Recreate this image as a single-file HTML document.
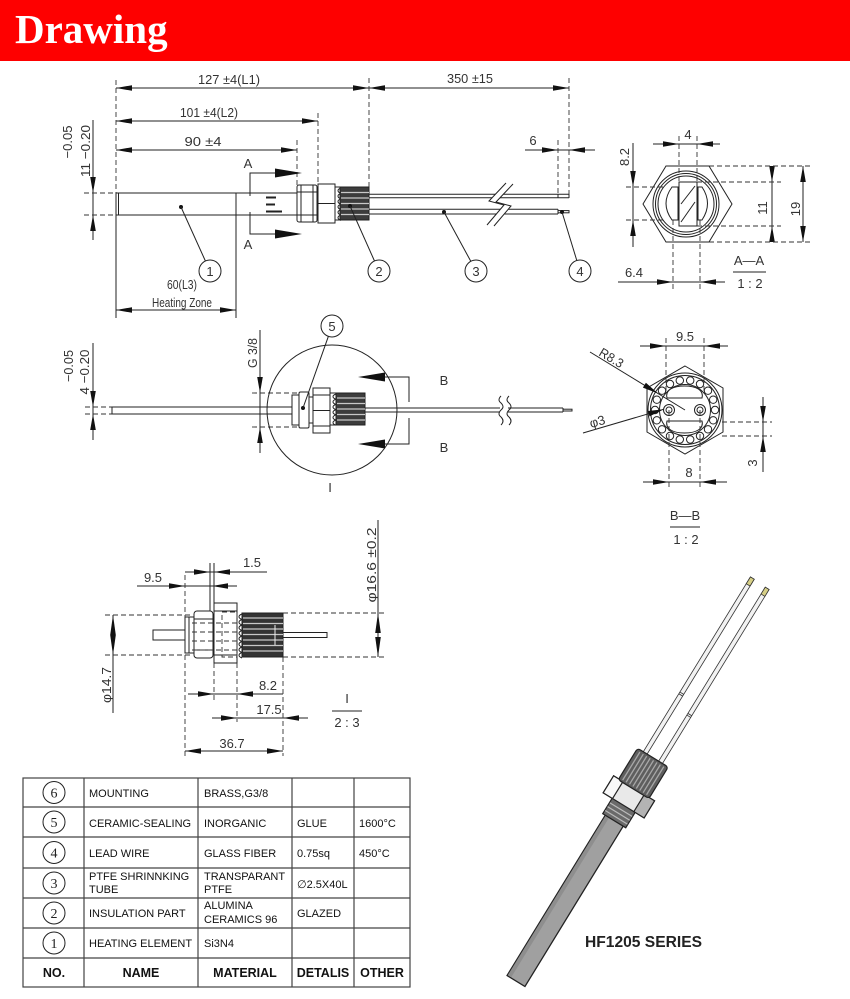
<!DOCTYPE html>
<html><head><meta charset="utf-8"><style>
html,body{margin:0;padding:0;background:#fff}
svg{display:block}
.l{stroke:#222;stroke-width:1;fill:none}
.lf{stroke:#222;stroke-width:1;fill:#fff}
.d{stroke:#333;stroke-width:0.9;fill:none;stroke-dasharray:5 3}
.t{font-family:"Liberation Sans Narrow","Liberation Sans",sans-serif;font-size:13px;fill:#333}
.a{fill:#111}
.tb{font-family:"Liberation Sans",sans-serif;font-size:11px;fill:#111}
.th{font-family:"Liberation Sans",sans-serif;font-size:12.5px;font-weight:bold;fill:#111}
.cn{font-family:"Liberation Serif",serif;font-size:14px;fill:#222}
.ks{stroke:#c8c8c8;stroke-width:1.2}
</style></head><body>
<svg width="850" height="999" viewBox="0 0 850 999" xmlns="http://www.w3.org/2000/svg">
<rect x="0" y="0" width="850" height="999" fill="#fff"/>
<rect x="0" y="0" width="850" height="61" fill="#fe0000"/>
<text x="15" y="43" font-family="Liberation Serif,serif" font-weight="bold" font-size="41" fill="#fff">Drawing</text>

<!-- ============ TOP VIEW ============ -->
<line class="l" x1="116" y1="88" x2="569" y2="88"/>
<polygon class="a" points="116,88 132,85.2 132,90.8"/>
<polygon class="a" points="369,88 353,85.2 353,90.8"/>
<polygon class="a" points="369,88 385,85.2 385,90.8"/>
<polygon class="a" points="569,88 553,85.2 553,90.8"/>
<text class="t" x="229" y="84" text-anchor="middle" textLength="62" lengthAdjust="spacingAndGlyphs" font-size="14">127 ±4(L1)</text>
<text class="t" x="470" y="83" text-anchor="middle" textLength="46" lengthAdjust="spacingAndGlyphs" font-size="14">350 ±15</text>

<line class="l" x1="116" y1="121" x2="318" y2="121"/>
<polygon class="a" points="116,121 132,118.2 132,123.8"/>
<polygon class="a" points="318,121 302,118.2 302,123.8"/>
<text class="t" x="209" y="117" text-anchor="middle" textLength="58" lengthAdjust="spacingAndGlyphs" font-size="14">101 ±4(L2)</text>

<line class="l" x1="116" y1="150" x2="297" y2="150"/>
<polygon class="a" points="116,150 132,147.2 132,152.8"/>
<polygon class="a" points="297,150 281,147.2 281,152.8"/>
<text class="t" x="203" y="146" text-anchor="middle" textLength="37" lengthAdjust="spacingAndGlyphs">90 ±4</text>

<line class="l" x1="525" y1="150" x2="595" y2="150"/>
<polygon class="a" points="558,150 542,147.2 542,152.8"/>
<polygon class="a" points="569,150 585,147.2 585,152.8"/>
<text class="t" x="533" y="145" text-anchor="middle">6</text>

<!-- extension lines -->
<line class="d" x1="116" y1="80" x2="116" y2="193"/>
<line class="l" x1="116" y1="215" x2="116" y2="318"/>
<line class="l" x1="236" y1="193" x2="236" y2="318"/>
<line class="d" x1="297" y1="140" x2="297" y2="185"/>
<line class="d" x1="318" y1="113" x2="318" y2="184"/>
<line class="d" x1="369" y1="78" x2="369" y2="187"/>
<line class="d" x1="569" y1="78" x2="569" y2="194"/>
<line class="d" x1="558" y1="140" x2="558" y2="194"/>

<!-- 11 dim -->
<line class="l" x1="93" y1="120" x2="93" y2="240"/>
<polygon class="a" points="93,193 90.2,177 95.8,177"/>
<polygon class="a" points="93,215 90.2,231 95.8,231"/>
<line class="d" x1="84" y1="193" x2="116" y2="193"/>
<line class="d" x1="84" y1="215" x2="116" y2="215"/>
<text class="t" transform="translate(72,142) rotate(-90)" text-anchor="middle" textLength="33" lengthAdjust="spacingAndGlyphs">−0.05</text>
<text class="t" transform="translate(90,151) rotate(-90)" text-anchor="middle" textLength="52" lengthAdjust="spacingAndGlyphs">11 −0.20</text>

<!-- rod -->
<rect class="l" x="116" y="193" width="181" height="22"/>
<line class="l" x1="118.5" y1="193" x2="118.5" y2="215"/>
<rect x="266" y="196.5" width="10" height="2" fill="#222"/>
<rect x="266" y="203.5" width="9" height="2" fill="#222"/>
<rect x="266" y="210.5" width="16" height="2" fill="#222"/>

<!-- heating zone -->
<line class="l" x1="116" y1="310" x2="236" y2="310"/>
<polygon class="a" points="116,310 132,307.2 132,312.8"/>
<polygon class="a" points="236,310 220,307.2 220,312.8"/>
<text class="t" x="182" y="289" text-anchor="middle" textLength="30" lengthAdjust="spacingAndGlyphs" font-size="14">60(L3)</text>
<text class="t" x="182" y="307" text-anchor="middle" textLength="60" lengthAdjust="spacingAndGlyphs" font-size="14">Heating Zone</text>

<!-- section A -->
<polyline class="l" points="276,173 250,173 250,196"/>
<polyline class="l" points="250,212 250,234 276,234"/>
<polygon class="a" points="302,173 275,168.5 275,177.5"/>
<polygon class="a" points="302,234 275,229.5 275,238.5"/>
<text class="t" x="248" y="168" text-anchor="middle">A</text>
<text class="t" x="248" y="249" text-anchor="middle">A</text>

<!-- connector top -->
<rect class="lf" x="297" y="185" width="20" height="37" rx="2"/>
<line class="l" x1="301" y1="185" x2="301" y2="222"/>
<line class="l" x1="313" y1="185" x2="313" y2="222"/>
<line class="l" x1="297" y1="192" x2="317" y2="192"/>
<line class="l" x1="297" y1="215" x2="317" y2="215"/>
<rect class="lf" x="318" y="184" width="17" height="39"/>
<line class="l" x1="318" y1="203.5" x2="335" y2="203.5"/>
<rect class="lf" x="335" y="187" width="6" height="33"/>
<path class="l" d="M341,188 c-4,1.3 -4,4 0,5.4 c-4,1.3 -4,4 0,5.4 c-4,1.3 -4,4 0,5.4 c-4,1.3 -4,4 0,5.4 c-4,1.3 -4,4 0,5.4 c-4,1.3 -4,4 0,5.4"/>
<rect x="340" y="187" width="29" height="33" fill="#3c3c3c" stroke="#222"/>
<line class="ks" x1="341" y1="192.5" x2="369" y2="192.5"/>
<line class="ks" x1="341" y1="198" x2="369" y2="198"/>
<line class="ks" x1="341" y1="203.5" x2="369" y2="203.5"/>
<line class="ks" x1="341" y1="209" x2="369" y2="209"/>
<line class="ks" x1="341" y1="214.5" x2="369" y2="214.5"/>

<!-- wires top -->
<line class="l" x1="369" y1="194.3" x2="569" y2="194.3"/>
<line class="l" x1="369" y1="197.7" x2="569" y2="197.7"/>
<line class="l" x1="558" y1="194.3" x2="558" y2="197.7"/>
<line class="l" x1="569" y1="194" x2="569" y2="198"/>
<line class="l" x1="369" y1="209.3" x2="558" y2="209.3"/>
<line class="l" x1="369" y1="214" x2="558" y2="214"/>
<line class="l" x1="558" y1="209.3" x2="558" y2="214"/>
<rect class="l" x="558" y="210.6" width="11" height="2.2"/>
<polygon fill="#fff" points="506,183 489,201 504,205 487,225 494,226 511,206 496,202 513,184"/>
<polyline class="l" points="506,183 489,201 504,205 487,225"/>
<polyline class="l" points="513,184 496,202 511,206 494,226"/>

<!-- leaders top -->
<circle class="a" cx="181" cy="207" r="2"/>
<line class="l" x1="181" y1="207" x2="205.4" y2="261"/>
<circle class="l" cx="210" cy="271" r="11"/>
<text class="t" x="210" y="276" text-anchor="middle">1</text>
<circle class="a" cx="350" cy="206" r="2"/>
<line class="l" x1="350" y1="206" x2="374.5" y2="261"/>
<circle class="l" cx="379" cy="271" r="11"/>
<text class="t" x="379" y="276" text-anchor="middle">2</text>
<circle class="a" cx="444" cy="212" r="2"/>
<line class="l" x1="444" y1="212" x2="470.8" y2="261.3"/>
<circle class="l" cx="476" cy="271" r="11"/>
<text class="t" x="476" y="276" text-anchor="middle">3</text>
<circle class="a" cx="562" cy="212" r="2"/>
<line class="l" x1="562" y1="212" x2="576.8" y2="260.5"/>
<circle class="l" cx="580" cy="271" r="11"/>
<text class="t" x="580" y="276" text-anchor="middle">4</text>

<!-- ============ SECTION A-A ============ -->
<polygon class="l" points="643,204 666,166 709,166 732,204 709,242 666,242"/>
<circle class="l" cx="686" cy="204" r="33"/>
<circle class="l" cx="686" cy="204" r="30.5"/>
<circle class="l" cx="686" cy="204" r="28"/>
<path class="lf" d="M678,187 L672,187 Q660,203.5 672,220 L678,220 Z"/>
<path class="lf" d="M698,187 L702,187 Q713,203.5 702,220 L698,220 Z"/>
<rect class="lf" x="679" y="182" width="18" height="44"/>
<line class="l" x1="681" y1="222" x2="695" y2="202"/>
<line class="l" x1="681" y1="204" x2="695" y2="186"/>

<line class="l" x1="653" y1="144" x2="720" y2="144"/>
<polygon class="a" points="679,144 663,141.2 663,146.8"/>
<polygon class="a" points="697,144 713,141.2 713,146.8"/>
<line class="d" x1="679" y1="136" x2="679" y2="182"/>
<line class="d" x1="697" y1="136" x2="697" y2="182"/>
<text class="t" x="688" y="139" text-anchor="middle">4</text>

<line class="l" x1="633" y1="143" x2="633" y2="247"/>
<polygon class="a" points="633,187 630.2,171 635.8,171"/>
<polygon class="a" points="633,220 630.2,236 635.8,236"/>
<line class="d" x1="626" y1="187" x2="665" y2="187"/>
<line class="d" x1="626" y1="220" x2="665" y2="220"/>
<text class="t" transform="translate(629,157) rotate(-90)" text-anchor="middle">8.2</text>

<line class="l" x1="772" y1="166" x2="772" y2="242"/>
<polygon class="a" points="772,182 769.2,166 774.8,166"/>
<polygon class="a" points="772,226 769.2,242 774.8,242"/>
<text class="t" transform="translate(767,208) rotate(-90)" text-anchor="middle">11</text>
<line class="l" x1="803" y1="166" x2="803" y2="242"/>
<polygon class="a" points="803,166 800.2,182 805.8,182"/>
<polygon class="a" points="803,242 800.2,226 805.8,226"/>
<text class="t" transform="translate(800,209) rotate(-90)" text-anchor="middle">19</text>
<line class="d" x1="709" y1="166" x2="812" y2="166"/>
<line class="d" x1="697" y1="182" x2="781" y2="182"/>
<line class="d" x1="697" y1="226" x2="781" y2="226"/>
<line class="d" x1="709" y1="242" x2="812" y2="242"/>

<line class="l" x1="618" y1="282" x2="725" y2="282"/>
<polygon class="a" points="673,282 657,279.2 657,284.8"/>
<polygon class="a" points="700,282 716,279.2 716,284.8"/>
<line class="d" x1="673" y1="220" x2="673" y2="290"/>
<line class="d" x1="700" y1="220" x2="700" y2="290"/>
<text class="t" x="634" y="277" text-anchor="middle">6.4</text>
<text class="t" x="749" y="265" text-anchor="middle">A—A</text>
<line class="l" x1="733" y1="272" x2="766" y2="272"/>
<text class="t" x="750" y="288" text-anchor="middle">1 : 2</text>

<!-- ============ MIDDLE VIEW ============ -->
<line class="l" x1="93" y1="343" x2="93" y2="440"/>
<polygon class="a" points="93,407 90.2,391 95.8,391"/>
<polygon class="a" points="93,414 90.2,430 95.8,430"/>
<line class="d" x1="85" y1="407" x2="112" y2="407"/>
<line class="d" x1="85" y1="414" x2="112" y2="414"/>
<text class="t" transform="translate(73,366) rotate(-90)" text-anchor="middle" textLength="32" lengthAdjust="spacingAndGlyphs">−0.05</text>
<text class="t" transform="translate(89,372) rotate(-90)" text-anchor="middle" textLength="45" lengthAdjust="spacingAndGlyphs">4 −0.20</text>
<rect class="l" x="112" y="407" width="180" height="7"/>

<line class="l" x1="260" y1="330" x2="260" y2="453"/>
<polygon class="a" points="260,393 257.2,377 262.8,377"/>
<polygon class="a" points="260,427 257.2,443 262.8,443"/>
<line class="d" x1="252" y1="393" x2="300" y2="393"/>
<line class="d" x1="252" y1="427" x2="300" y2="427"/>
<text class="t" transform="translate(257,353) rotate(-90)" text-anchor="middle" textLength="30" lengthAdjust="spacingAndGlyphs">G 3/8</text>

<circle class="l" cx="332" cy="410" r="65"/>
<text class="t" x="330" y="492" text-anchor="middle">I</text>

<rect class="lf" x="292" y="395" width="7" height="30"/>
<rect class="lf" x="299" y="392" width="10" height="36" rx="1.5"/>
<rect class="lf" x="309" y="397" width="4" height="26"/>
<rect class="lf" x="313" y="388" width="17" height="45"/>
<line class="l" x1="313" y1="395" x2="330" y2="395"/>
<line class="l" x1="313" y1="410.5" x2="330" y2="410.5"/>
<line class="l" x1="313" y1="426" x2="330" y2="426"/>
<rect class="lf" x="330" y="393" width="6" height="32"/>
<path class="l" d="M336,394 c-4,1.3 -4,4 0,5.2 c-4,1.3 -4,4 0,5.2 c-4,1.3 -4,4 0,5.2 c-4,1.3 -4,4 0,5.2 c-4,1.3 -4,4 0,5.2 c-4,1.3 -4,4 0,5.2"/>
<rect x="336" y="393" width="29" height="32" fill="#3c3c3c" stroke="#222"/>
<line class="ks" x1="337" y1="398" x2="365" y2="398"/>
<line class="ks" x1="337" y1="403.5" x2="365" y2="403.5"/>
<line class="ks" x1="337" y1="409" x2="365" y2="409"/>
<line class="ks" x1="337" y1="414.5" x2="365" y2="414.5"/>
<line class="ks" x1="337" y1="420" x2="365" y2="420"/>

<line class="l" x1="365" y1="408" x2="563" y2="408"/>
<line class="l" x1="365" y1="412" x2="563" y2="412"/>
<line class="l" x1="563" y1="408" x2="563" y2="412"/>
<rect class="l" x="563" y="409.2" width="9" height="1.8"/>
<rect x="500" y="400" width="8" height="20" fill="#fff"/>
<path class="l" d="M501,396 q-4,4 0,7 q4,4 0,7 q-4,4 0,7 q4,4 0,8"/>
<path class="l" d="M509,396 q-4,4 0,7 q4,4 0,7 q-4,4 0,7 q4,4 0,8"/>

<circle class="a" cx="303" cy="408" r="2"/>
<line class="l" x1="303" y1="408" x2="328.4" y2="336.3"/>
<circle class="l" cx="332" cy="326" r="11"/>
<text class="t" x="332" y="331" text-anchor="middle">5</text>

<polygon class="a" points="358,377 385,372.5 385,381.5"/>
<polygon class="a" points="358,444 385,439.5 385,448.5"/>
<polyline class="l" points="385,377 409,377 409,402"/>
<polyline class="l" points="409,418 409,444 385,444"/>
<text class="t" x="444" y="385" text-anchor="middle">B</text>
<text class="t" x="444" y="452" text-anchor="middle">B</text>

<!-- ============ SECTION B-B ============ -->
<polygon class="l" points="685,366 723,388 723,432 685,454 647,432 647,388"/>
<circle class="l" cx="685" cy="410" r="37"/>
<circle class="l" cx="685" cy="410" r="34.5"/>
<circle class="l" cx="685" cy="410" r="25.5"/>
<g class="l">
<circle cx="715" cy="410" r="3.7"/><circle cx="713.2" cy="420.3" r="3.7"/><circle cx="708" cy="429.3" r="3.7"/>
<circle cx="700" cy="436" r="3.7"/><circle cx="690.2" cy="439.5" r="3.7"/><circle cx="679.8" cy="439.5" r="3.7"/>
<circle cx="670" cy="436" r="3.7"/><circle cx="662" cy="429.3" r="3.7"/><circle cx="656.8" cy="420.3" r="3.7"/>
<circle cx="655" cy="410" r="3.7"/><circle cx="656.8" cy="399.7" r="3.7"/><circle cx="662" cy="390.7" r="3.7"/>
<circle cx="670" cy="384" r="3.7"/><circle cx="679.8" cy="380.5" r="3.7"/><circle cx="690.2" cy="380.5" r="3.7"/>
<circle cx="700" cy="384" r="3.7"/><circle cx="708" cy="390.7" r="3.7"/><circle cx="713.2" cy="399.7" r="3.7"/>
</g>
<path class="lf" d="M667,398 L702,398 C704,390 696,386 684.5,386 C673,386 665,390 667,398 Z"/>
<path class="lf" d="M667,421 L702,421 C704,429 696,433 684.5,433 C673,433 665,429 667,421 Z"/>
<circle class="lf" cx="669" cy="410" r="5.5"/>
<circle class="l" cx="669" cy="410" r="3"/>
<circle class="lf" cx="700" cy="410" r="5.5"/>
<circle class="l" cx="700" cy="410" r="3"/>

<line class="l" x1="590" y1="352" x2="685" y2="410"/>
<polygon class="a" points="658,393.5 642.9,387.6 645.9,382.8"/>
<text class="t" transform="translate(598,355) rotate(31)" textLength="26" lengthAdjust="spacingAndGlyphs">R8.3</text>
<line class="l" x1="583" y1="433" x2="664" y2="409.2"/>
<polygon class="a" points="664,409.2 649.5,416.4 647.9,411"/>
<text class="t" transform="translate(591,428) rotate(-16)" font-size="15">φ3</text>

<line class="l" x1="640" y1="346" x2="728" y2="346"/>
<polygon class="a" points="666,346 650,343.2 650,348.8"/>
<polygon class="a" points="704,346 720,343.2 720,348.8"/>
<line class="d" x1="666" y1="338" x2="666" y2="392"/>
<line class="d" x1="704" y1="338" x2="704" y2="392"/>
<text class="t" x="685" y="341" text-anchor="middle">9.5</text>

<line class="l" x1="643" y1="482" x2="727" y2="482"/>
<polygon class="a" points="669,482 653,479.2 653,484.8"/>
<polygon class="a" points="700,482 716,479.2 716,484.8"/>
<line class="d" x1="669" y1="410" x2="669" y2="490"/>
<line class="d" x1="700" y1="410" x2="700" y2="490"/>
<text class="t" x="689" y="477" text-anchor="middle">8</text>

<line class="l" x1="763" y1="397" x2="763" y2="472"/>
<polygon class="a" points="763,422 760.2,406 765.8,406"/>
<polygon class="a" points="763,436 760.2,452 765.8,452"/>
<line class="d" x1="722" y1="422" x2="772" y2="422"/>
<line class="d" x1="722" y1="436" x2="772" y2="436"/>
<text class="t" transform="translate(757,463) rotate(-90)" text-anchor="middle">3</text>

<text class="t" x="685" y="520" text-anchor="middle">B—B</text>
<line class="l" x1="670" y1="527" x2="700" y2="527"/>
<text class="t" x="686" y="544" text-anchor="middle">1 : 2</text>

<!-- ============ DETAIL I ============ -->
<line class="l" x1="113" y1="615" x2="113" y2="713"/>
<polygon class="a" points="113,615 110.2,635 115.8,635"/>
<polygon class="a" points="113,655 110.2,635 115.8,635"/>
<line class="d" x1="105" y1="615" x2="192" y2="615"/>
<line class="d" x1="105" y1="655" x2="192" y2="655"/>
<text class="t" transform="translate(111,685) rotate(-90)" text-anchor="middle" textLength="36" lengthAdjust="spacingAndGlyphs">φ14.7</text>

<line class="l" x1="378" y1="520" x2="378" y2="657"/>
<polygon class="a" points="378,613 375.2,633 380.8,633"/>
<polygon class="a" points="378,657 375.2,637 380.8,637"/>
<line class="d" x1="283" y1="613" x2="387" y2="613"/>
<line class="d" x1="283" y1="657" x2="387" y2="657"/>
<text class="t" transform="translate(376,565) rotate(-90)" text-anchor="middle" textLength="75" lengthAdjust="spacingAndGlyphs">φ16.6 ±0.2</text>

<line class="l" x1="137" y1="586" x2="237" y2="586"/>
<polygon class="a" points="185,586 169,583.2 169,588.8"/>
<polygon class="a" points="212,586 228,583.2 228,588.8"/>
<text class="t" x="153" y="582" text-anchor="middle">9.5</text>

<line class="l" x1="185" y1="572" x2="267" y2="572"/>
<polygon class="a" points="210,572 194,569.2 194,574.8"/>
<polygon class="a" points="214,572 230,569.2 230,574.8"/>
<text class="t" x="252" y="567" text-anchor="middle">1.5</text>
<line class="l" x1="210" y1="563" x2="210" y2="611"/>
<line class="l" x1="214" y1="563" x2="214" y2="603"/>

<line class="l" x1="188" y1="694" x2="283" y2="694"/>
<polygon class="a" points="214,694 198,691.2 198,696.8"/>
<polygon class="a" points="237,694 253,691.2 253,696.8"/>
<text class="t" x="268" y="690" text-anchor="middle">8.2</text>

<line class="l" x1="212" y1="718" x2="308" y2="718"/>
<polygon class="a" points="237,718 221,715.2 221,720.8"/>
<polygon class="a" points="283,718 299,715.2 299,720.8"/>
<text class="t" x="269" y="714" text-anchor="middle">17.5</text>

<line class="l" x1="185" y1="751" x2="283" y2="751"/>
<polygon class="a" points="185,751 201,748.2 201,753.8"/>
<polygon class="a" points="283,751 267,748.2 267,753.8"/>
<text class="t" x="232" y="748" text-anchor="middle">36.7</text>

<line class="d" x1="185" y1="575" x2="185" y2="756"/>
<line class="d" x1="214" y1="663" x2="214" y2="700"/>
<line class="d" x1="237" y1="663" x2="237" y2="722"/>
<line class="d" x1="283" y1="657" x2="283" y2="756"/>

<rect class="lf" x="153" y="630" width="40" height="10"/>
<rect class="lf" x="283" y="632.5" width="44" height="5"/>
<rect class="lf" x="185" y="617" width="9" height="36"/>
<line class="l" x1="189" y1="617" x2="189" y2="653"/>
<rect class="lf" x="194" y="611" width="19" height="47" rx="3"/>
<line class="l" x1="194" y1="619" x2="213" y2="619"/>
<line class="l" x1="194" y1="650" x2="213" y2="650"/>
<rect class="lf" x="214" y="603" width="23" height="60"/>
<line class="l" x1="214" y1="611" x2="237" y2="611"/>
<line class="l" x1="214" y1="655" x2="237" y2="655"/>
<rect class="d" x="222" y="612" width="15" height="45"/>
<path class="l" d="M242,614 c-4,1.5 -4,4 0,5.5 c-4,1.5 -4,4 0,5.5 c-4,1.5 -4,4 0,5.5 c-4,1.5 -4,4 0,5.5 c-4,1.5 -4,4 0,5.5 c-4,1.5 -4,4 0,5.5 c-4,1.5 -4,4 0,5.5 c-4,1.5 -4,4 0,5.5"/>
<rect x="242" y="613" width="41" height="44" fill="#333" stroke="#222"/>
<line class="ks" x1="243" y1="618" x2="283" y2="618"/>
<line class="ks" x1="243" y1="623.5" x2="283" y2="623.5"/>
<line class="ks" x1="243" y1="629" x2="283" y2="629"/>
<line class="ks" x1="243" y1="634.5" x2="283" y2="634.5"/>
<line class="ks" x1="243" y1="640" x2="283" y2="640"/>
<line class="ks" x1="243" y1="645.5" x2="283" y2="645.5"/>
<line class="ks" x1="243" y1="651" x2="283" y2="651"/>
<line x1="275" y1="625" x2="275" y2="645" stroke="#eee" stroke-width="1"/>
<line class="d" x1="192" y1="623" x2="240" y2="623"/>
<line class="d" x1="192" y1="632" x2="240" y2="632"/>
<line class="d" x1="192" y1="641" x2="240" y2="641"/>
<line class="d" x1="192" y1="650" x2="240" y2="650"/>

<text class="t" x="347" y="703" text-anchor="middle">I</text>
<line class="l" x1="332" y1="711" x2="362" y2="711"/>
<text class="t" x="347" y="727" text-anchor="middle">2 : 3</text>

<!-- ============ TABLE ============ -->
<g stroke="#444" stroke-width="1.2" fill="none">
<rect x="23" y="778" width="387" height="209"/>
<line x1="84" y1="778" x2="84" y2="987"/>
<line x1="198" y1="778" x2="198" y2="987"/>
<line x1="292" y1="778" x2="292" y2="987"/>
<line x1="354" y1="778" x2="354" y2="987"/>
<line x1="23" y1="807" x2="410" y2="807"/>
<line x1="23" y1="837" x2="410" y2="837"/>
<line x1="23" y1="868" x2="410" y2="868"/>
<line x1="23" y1="898" x2="410" y2="898"/>
<line x1="23" y1="928" x2="410" y2="928"/>
<line x1="23" y1="958" x2="410" y2="958"/>
</g>
<g stroke="#222" stroke-width="1" fill="none">
<circle cx="54" cy="792.5" r="11"/><circle cx="54" cy="822" r="11"/><circle cx="54" cy="852.5" r="11"/>
<circle cx="54" cy="883" r="11"/><circle cx="54" cy="913" r="11"/><circle cx="54" cy="943" r="11"/>
</g>
<text class="cn" x="54" y="797.5" text-anchor="middle">6</text>
<text class="cn" x="54" y="827" text-anchor="middle">5</text>
<text class="cn" x="54" y="857.5" text-anchor="middle">4</text>
<text class="cn" x="54" y="888" text-anchor="middle">3</text>
<text class="cn" x="54" y="918" text-anchor="middle">2</text>
<text class="cn" x="54" y="948" text-anchor="middle">1</text>

<text class="tb" x="89" y="797">MOUNTING</text>
<text class="tb" x="204" y="797">BRASS,G3/8</text>
<text class="tb" x="89" y="827">CERAMIC-SEALING</text>
<text class="tb" x="204" y="827">INORGANIC</text>
<text class="tb" x="297" y="827">GLUE</text>
<text class="tb" x="359" y="827">1600°C</text>
<text class="tb" x="89" y="857">LEAD WIRE</text>
<text class="tb" x="204" y="857">GLASS FIBER</text>
<text class="tb" x="297" y="857">0.75sq</text>
<text class="tb" x="359" y="857">450°C</text>
<text class="tb" x="89" y="880">PTFE SHRINNKING</text>
<text class="tb" x="89" y="893">TUBE</text>
<text class="tb" x="204" y="880">TRANSPARANT</text>
<text class="tb" x="204" y="893">PTFE</text>
<text class="tb" x="297" y="888">∅2.5X40L</text>
<text class="tb" x="89" y="917">INSULATION PART</text>
<text class="tb" x="204" y="909">ALUMINA</text>
<text class="tb" x="204" y="923">CERAMICS 96</text>
<text class="tb" x="297" y="917">GLAZED</text>
<text class="tb" x="89" y="947">HEATING ELEMENT</text>
<text class="tb" x="204" y="947">Si3N4</text>
<text class="th" x="54" y="977" text-anchor="middle">NO.</text>
<text class="th" x="141" y="977" text-anchor="middle">NAME</text>
<text class="th" x="245" y="977" text-anchor="middle">MATERIAL</text>
<text class="th" x="323" y="977" text-anchor="middle">DETALIS</text>
<text class="th" x="382" y="977" text-anchor="middle">OTHER</text>

<!-- ============ PRODUCT IMAGE ============ -->
<g transform="translate(516,981) rotate(31.5)">
  <rect x="-11.25" y="-467" width="4.5" height="210" fill="#f2f2f2" stroke="#333" stroke-width="0.8"/>
  <rect x="6.75" y="-466" width="4.5" height="209" fill="#f2f2f2" stroke="#333" stroke-width="0.8"/>
  <rect x="-11.25" y="-467" width="4.5" height="8" fill="#d6cf86" stroke="#333" stroke-width="0.8"/>
  <rect x="6.75" y="-466" width="4.5" height="8" fill="#d6cf86" stroke="#333" stroke-width="0.8"/>
  <line x1="-11.25" y1="-332" x2="-6.75" y2="-332" stroke="#333" stroke-width="0.8"/>
  <line x1="-11.25" y1="-330" x2="-6.75" y2="-330" stroke="#333" stroke-width="0.8"/>
  <line x1="6.75" y1="-318" x2="11.25" y2="-318" stroke="#333" stroke-width="0.8"/>
  <line x1="6.75" y1="-316" x2="11.25" y2="-316" stroke="#333" stroke-width="0.8"/>
  <rect x="-10.5" y="-190" width="21" height="190" fill="#a0a0a0" stroke="#222" stroke-width="1.3"/>
  <rect x="-10" y="-189" width="4" height="188" fill="#8e8e8e"/>
  <rect x="-13.5" y="-207" width="27" height="19" fill="#6a6a6a" stroke="#222" stroke-width="1.2"/>
  <g stroke="#bbb" stroke-width="1.2">
    <line x1="-13" y1="-192" x2="13" y2="-192"/>
    <line x1="-13" y1="-196.5" x2="13" y2="-196.5"/>
    <line x1="-13" y1="-201" x2="13" y2="-201"/>
  </g>
  <rect x="-24" y="-226" width="48" height="20" fill="#e9e9e9" stroke="#222" stroke-width="1.2"/>
  <rect x="12" y="-226" width="12" height="20" fill="#b3b3b3" stroke="#222" stroke-width="1.2"/>
  <rect x="-24" y="-226" width="11" height="20" fill="#f8f8f8" stroke="#222" stroke-width="1.2"/>
  <rect x="-18" y="-262" width="36" height="37" rx="3" fill="#5e5e5e" stroke="#222" stroke-width="1.2"/>
  <g stroke="#a8a8a8" stroke-width="1.3">
    <line x1="-14" y1="-260" x2="-14" y2="-227"/><line x1="-10" y1="-260" x2="-10" y2="-227"/>
    <line x1="-6" y1="-260" x2="-6" y2="-227"/><line x1="-2" y1="-260" x2="-2" y2="-227"/>
    <line x1="2" y1="-260" x2="2" y2="-227"/><line x1="6" y1="-260" x2="6" y2="-227"/>
    <line x1="10" y1="-260" x2="10" y2="-227"/><line x1="14" y1="-260" x2="14" y2="-227"/>
  </g>
</g>
<text x="585" y="947" font-family="Liberation Sans,sans-serif" font-weight="bold" font-size="16" fill="#222" textLength="117" lengthAdjust="spacingAndGlyphs">HF1205 SERIES</text>
</svg>
</body></html>
